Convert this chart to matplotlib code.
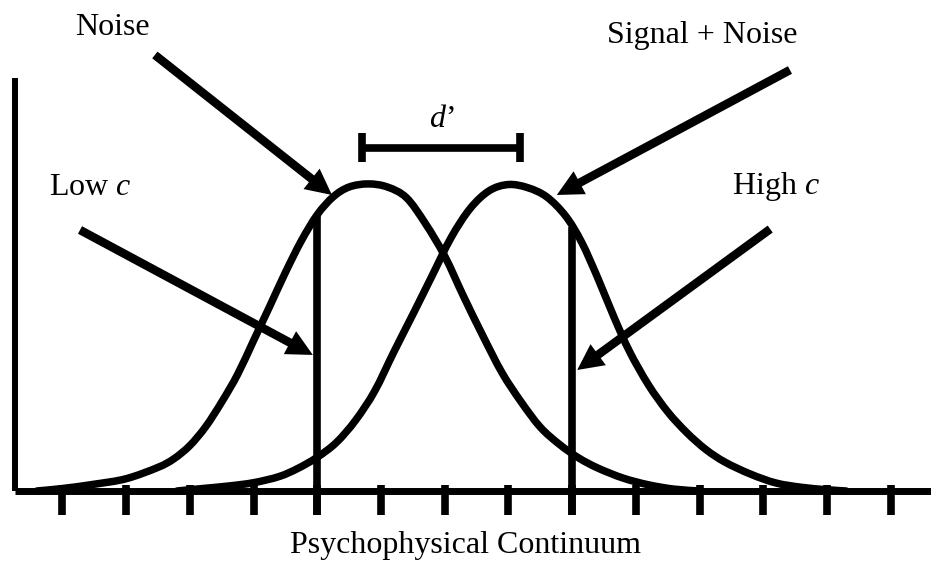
import numpy as np
import matplotlib.pyplot as plt
from matplotlib.path import Path
from matplotlib.patches import PathPatch

plt.rcParams['font.family'] = 'Liberation Serif'
plt.rcParams['mathtext.fontset'] = 'custom'
plt.rcParams['mathtext.rm'] = 'Liberation Serif'
plt.rcParams['mathtext.it'] = 'Liberation Serif:italic'

# tick marks along the continuum (one unit per tick)
ticks = list(range(14))
# criterion positions: low c and high c
criteria = [4, 8]

# noise distribution (peak height ~ 1)
noise_x = [-0.4, 0.0, 0.5, 1.0, 1.5, 1.75, 2.0, 2.25, 2.5, 2.75, 3.0, 3.25, 3.5,
           3.75, 4.0, 4.25, 4.5, 4.8, 5.1, 5.4, 5.7, 6.0, 6.3, 6.6, 6.9, 7.2, 7.5,
           7.8, 8.1, 8.4, 8.8, 9.2, 9.6, 10.0]
noise_y = [0.000, 0.008, 0.022, 0.040, 0.077, 0.105, 0.148, 0.210, 0.290, 0.380,
           0.490, 0.600, 0.712, 0.815, 0.900, 0.958, 0.990, 1.000, 0.990, 0.955,
           0.870, 0.765, 0.632, 0.505, 0.385, 0.290, 0.208, 0.152, 0.108, 0.075,
           0.042, 0.020, 0.006, 0.000]

# signal + noise distribution
signal_x = [1.8, 2.2, 2.6, 3.0, 3.4, 3.7, 4.0, 4.3, 4.6, 4.9, 5.2, 5.5, 5.8, 6.1,
            6.4, 6.7, 7.0, 7.3, 7.6, 7.9, 8.15, 8.4, 8.65, 8.9, 9.2, 9.5, 9.8,
            10.1, 10.4, 10.8, 11.2, 11.6, 12.0, 12.3]
signal_y = [0.000, 0.008, 0.016, 0.027, 0.047, 0.074, 0.110, 0.158, 0.230, 0.325,
            0.452, 0.575, 0.700, 0.825, 0.920, 0.978, 0.998, 0.988, 0.958, 0.895,
            0.810, 0.695, 0.570, 0.455, 0.345, 0.258, 0.190, 0.135, 0.094, 0.055,
            0.026, 0.012, 0.004, 0.000]


def smooth_path(xs, ys):
    # catmull-rom through the read points, as bezier segments
    pts = np.column_stack([xs, ys])
    verts = [pts[0]]
    codes = [Path.MOVETO]
    n = len(pts)
    for i in range(n - 1):
        p0 = pts[max(i - 1, 0)]
        p1 = pts[i]
        p2 = pts[i + 1]
        p3 = pts[min(i + 2, n - 1)]
        verts += [p1 + (p2 - p0) / 6, p2 - (p3 - p1) / 6, p2]
        codes += [Path.CURVE4] * 3
    return Path(verts, codes)


fig = plt.figure(figsize=(9.31, 5.67), dpi=100)
ax = fig.add_axes([0, 0, 1, 1])
ax.set_xlim(-0.981, 13.634)
ax.set_ylim(-0.2476, 1.599)
ax.axis('off')

# axes drawn by hand
ax.plot([-0.746, 13.634], [0, 0], color='k', lw=5, solid_capstyle='butt')
ax.plot([-0.746, -0.746], [0, 1.345], color='k', lw=4.3, solid_capstyle='butt')
ax.vlines(ticks, -0.078, 0.02, color='k', lw=5.5)

# the two distributions
for xs, ys in [(noise_x, noise_y), (signal_x, signal_y)]:
    ax.add_patch(PathPatch(smooth_path(xs, ys), fill=False, ec='k', lw=5.4,
                           capstyle='round', joinstyle='round'))

# criterion lines, from the tick up to the curve
ax.vlines(criteria[0], -0.078, np.interp(criteria[0], noise_x, noise_y), color='k', lw=5.5)
ax.vlines(criteria[1], -0.078, np.interp(criteria[1], signal_x, signal_y), color='k', lw=5.5)

# d' bar
ax.plot([4.70, 7.18], [1.117, 1.117], color='k', lw=5.5, solid_capstyle='butt')
ax.vlines([4.70, 7.18], 1.072, 1.166, color='k', lw=5.5)
ax.text(5.96, 1.21, "$d$\u2019", ha='center', va='center', fontsize=23)

arrow = dict(arrowstyle='simple,head_length=0.85,head_width=0.85,tail_width=0.28',
             fc='k', ec='none', lw=0, mutation_scale=22, shrinkA=0, shrinkB=0)
ax.annotate('', xy=(4.23, 0.964), xytext=(1.45, 1.42), arrowprops=arrow)
ax.annotate('', xy=(7.76, 0.964), xytext=(11.42, 1.371), arrowprops=arrow)
ax.annotate('', xy=(3.93, 0.443), xytext=(0.275, 0.85), arrowprops=arrow)
ax.annotate('', xy=(8.08, 0.394), xytext=(11.11, 0.853), arrowprops=arrow)

ax.text(0.78, 1.511, 'Noise', ha='center', va='center', fontsize=23)
ax.text(10.04, 1.485, 'Signal + Noise', ha='center', va='center', fontsize=23)
ax.text(0.43, 0.987, 'Low $c$', ha='center', va='center', fontsize=23)
ax.text(11.20, 0.99, 'High $c$', ha='center', va='center', fontsize=23)
ax.text(6.32, -0.176, 'Psychophysical Continuum', ha='center', va='center', fontsize=23)

fig.savefig('out.png', dpi=100)
